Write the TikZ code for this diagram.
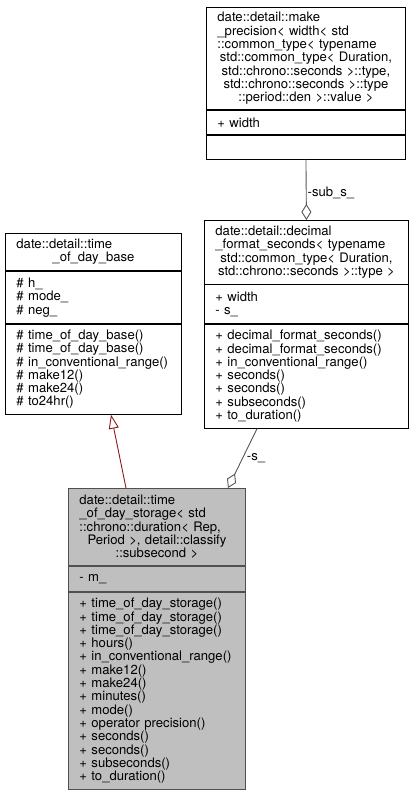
\documentclass[tikz,border=0pt]{standalone}
\usepackage{fontspec}
\setmainfont{TeX Gyre Heros}
\usetikzlibrary{arrows.meta,calc}
\definecolor{edgegray}{HTML}{555555}
\definecolor{inhred}{HTML}{8B1A1A}
\definecolor{rootfill}{HTML}{BFBFBF}
\definecolor{rootline}{HTML}{505050}
\newcommand\lln[1]{\noindent\hbox to \hsize{#1\hfil}}
\begin{document}
\begin{tikzpicture}[x=1pt,y=-1pt,
  cbox/.style={draw=black, line width=0.9pt, fill=white, anchor=north west, inner sep=0pt,
     font=\fontsize{13.1}{13.3}\selectfont},
  ttl/.style={cbox, align=center},
  mem/.style={cbox, align=left},
  root/.style={fill=rootfill, draw=rootline},
  agg/.style={draw=edgegray, line width=0.9pt, -{Diamond[length=16pt,width=10pt,fill=white,line width=0.9pt]}},
  inh/.style={draw=inhred, line width=0.9pt, -{Triangle[length=14pt,width=10pt,fill=white,line width=0.9pt]}},
  elabel/.style={font=\fontsize{13.1}{13.3}\selectfont, inner sep=1pt, anchor=west}
]
\useasboundingbox (0,0) rectangle (414,793);

% A: make_precision
\node[ttl, minimum width=199pt, minimum height=102pt, text width=177pt] (At) at (206,7)
  {\lln{date::detail::make}\\\lln{\_precision< width< std}\\\lln{::common\_type< typename}\\std::common\_type< Duration,\\std::chrono::seconds >::type,\\std::chrono::seconds >::type\\::period::den >::value >};
\node[mem, minimum width=199pt, minimum height=24.5pt, text width=177pt] (Aa) at (At.south west) {+ width};
\node[mem, minimum width=199pt, minimum height=23.5pt, text width=177pt] (Am) at (Aa.south west) {};

% B: decimal_format_seconds
\node[ttl, minimum width=204pt, minimum height=63.5pt, text width=182pt] (Bt) at (204,220)
  {\lln{date::detail::decimal}\\\lln{\_format\_seconds< typename}\\std::common\_type< Duration,\\std::chrono::seconds >::type >};
\node[mem, minimum width=204pt, minimum height=38.5pt, text width=182pt] (Ba) at (Bt.south west) {+ width\\- s\_};
\node[mem, minimum width=204pt, minimum height=104pt, text width=182pt] (Bm) at (Ba.south west)
  {+ decimal\_format\_seconds()\\+ decimal\_format\_seconds()\\+ in\_conventional\_range()\\+ seconds()\\+ seconds()\\+ subseconds()\\+ to\_duration()};

% C: time_of_day_base
\node[ttl, minimum width=176pt, minimum height=37pt, text width=154pt] (Ct) at (5,233)
  {\lln{date::detail::time}\\\_of\_day\_base};
\node[mem, minimum width=176pt, minimum height=52pt, text width=154pt] (Ca) at (Ct.south west) {\# h\_\\\# mode\_\\\# neg\_};
\node[mem, minimum width=176pt, minimum height=90pt, text width=154pt] (Cm) at (Ca.south west)
  {\# time\_of\_day\_base()\\\# time\_of\_day\_base()\\\# in\_conventional\_range()\\\# make12()\\\# make24()\\\# to24hr()};

% D: time_of_day_storage
\node[ttl, root, minimum width=177pt, minimum height=77pt, text width=155pt] (Dt) at (68,488)
  {\lln{date::detail::time}\\\lln{\_of\_day\_storage< std}\\\lln{::chrono::duration< Rep,}\\Period >, detail::classify\\::subsecond >};
\node[mem, root, minimum width=177pt, minimum height=25pt, text width=155pt] (Da) at (Dt.south west) {- m\_};
\node[mem, root, minimum width=177pt, minimum height=197pt, text width=155pt] (Dm) at (Da.south west)
  {+ time\_of\_day\_storage()\\+ time\_of\_day\_storage()\\+ time\_of\_day\_storage()\\+ hours()\\+ in\_conventional\_range()\\+ make12()\\+ make24()\\+ minutes()\\+ mode()\\+ operator precision()\\+ seconds()\\+ seconds()\\+ subseconds()\\+ to\_duration()};

% connectors
\coordinate (bOut) at ($(Bm.south west)+(53,0)$);
\coordinate (dAgg) at ($(Dt.north west)+(160,0)$);
\coordinate (dInh) at ($(Dt.north west)+(58,0)$);
\coordinate (cIn) at ($(Cm.south west)+(106,0)$);

\draw[agg] (Am.south) -- node[elabel, pos=0.55] {-sub\_s\_} (Bt.north);
\draw[agg] (bOut) -- node[elabel, pos=0.5, xshift=3pt] {-s\_} (dAgg);
\draw[inh] (dInh) -- (cIn);
\end{tikzpicture}
\end{document}
